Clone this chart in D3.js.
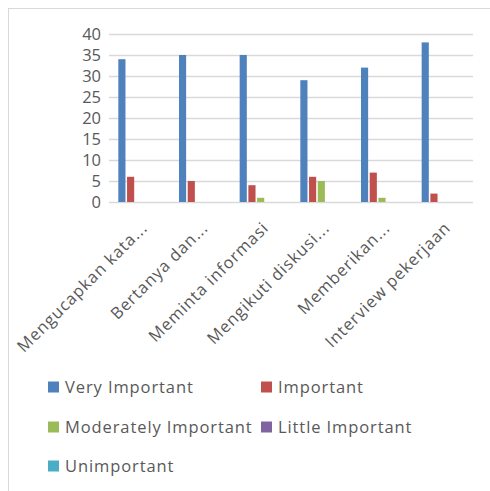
<!DOCTYPE html>
<html><head><meta charset="utf-8">
<script src="https://cdn.jsdelivr.net/npm/d3@7"></script>
<style>body{margin:0;background:#fff}svg{display:block}</style>
</head><body>
<script>
const categories = ["Mengucapkan kata...", "Bertanya dan...", "Meminta informasi", "Mengikuti diskusi...", "Memberikan...", "Interview pekerjaan"];
const seriesNames = ["Very Important", "Important", "Moderately Important", "Little Important", "Unimportant"];
const veryImportant = [34, 35, 35, 29, 32, 38];
const important = [6, 5, 4, 6, 7, 2];
const moderatelyImportant = [0, 0, 1, 5, 1, 0];
const littleImportant = [0, 0, 0, 0, 0, 0];
const unimportant = [0, 0, 0, 0, 0, 0];
const yTicks = [0, 5, 10, 15, 20, 25, 30, 35, 40];
const colors = ["#4F81BD", "#C0504D", "#9BBB59", "#8064A2", "#4BACC6"];

(function () {
const series = [veryImportant, important, moderatelyImportant, littleImportant, unimportant];
const W = 490, H = 491;
const font = "'Open Sans', sans-serif";
const textColor = "#595959";
const ls = 0.9;

const svg = d3.select("body").append("svg").attr("width", W).attr("height", H);
svg.append("rect").attr("x", 8.5).attr("y", 8.5).attr("width", W).attr("height", H)
  .attr("fill", "#fff").attr("stroke", "#D9D9D9");

const pLeft = 109, pRight = 473, pTop = 34, pBottom = 202;
const x0 = d3.scaleBand().domain(categories).range([pLeft, pRight]).paddingInner(0).paddingOuter(0);
const x1 = d3.scaleBand().domain(seriesNames).range([0, x0.bandwidth()]).paddingOuter(1.07).paddingInner(0.18);
const y = d3.scaleLinear().domain([0, 40]).range([pBottom, pTop]);

svg.append("g").selectAll("line").data(yTicks).join("line")
  .attr("x1", pLeft).attr("x2", pRight)
  .attr("y1", d => Math.round(y(d)) + 0.5).attr("y2", d => Math.round(y(d)) + 0.5)
  .attr("stroke", "#D9D9D9").attr("stroke-width", 1.5);

const yAxis = d3.axisLeft(y).tickValues(yTicks).tickSize(0).tickPadding(0);
const gy = svg.append("g").attr("transform", `translate(101,0)`).call(yAxis);
gy.select(".domain").remove();
gy.selectAll("text").attr("font-family", font).attr("font-size", 16.5).attr("fill", textColor).attr("dy", "0.35em");

const groups = svg.append("g").selectAll("g").data(categories).join("g")
  .attr("transform", d => `translate(${x0(d)},0)`);
groups.selectAll("rect").data((c, i) => series.map((s, k) => ({name: seriesNames[k], v: s[i], k})))
  .join("rect")
  .attr("x", d => x1(d.name)).attr("width", x1.bandwidth())
  .attr("y", d => y(d.v)).attr("height", d => y(0) - y(d.v))
  .attr("fill", d => colors[d.k]);

const xAxis = d3.axisBottom(x0).tickSize(0).tickPadding(0);
const gx = svg.append("g").attr("transform", `translate(0,${pBottom})`).call(xAxis);
gx.select(".domain").remove();
gx.selectAll("text").attr("font-family", font).attr("font-size", 16.5).attr("fill", textColor)
  .attr("letter-spacing", ls)
  .attr("text-anchor", "end").attr("dy", null).attr("y", 0)
  .attr("transform", "translate(9,27) rotate(-45)");

const legendPos = [[48, 387], [261, 387], [48, 427], [261, 427], [48, 466]];
const lg = svg.append("g").selectAll("g").data(seriesNames).join("g")
  .attr("transform", (d, i) => `translate(${legendPos[i][0]},${legendPos[i][1]})`);
lg.append("rect").attr("x", 0).attr("y", -5.5).attr("width", 11).attr("height", 11).attr("fill", (d, i) => colors[i]);
lg.append("text").attr("x", 17).attr("y", 0).attr("dy", "0.35em").text(d => d)
  .attr("letter-spacing", ls)
  .attr("font-family", font).attr("font-size", 16.5).attr("fill", textColor);
})();
</script>
</body></html>
